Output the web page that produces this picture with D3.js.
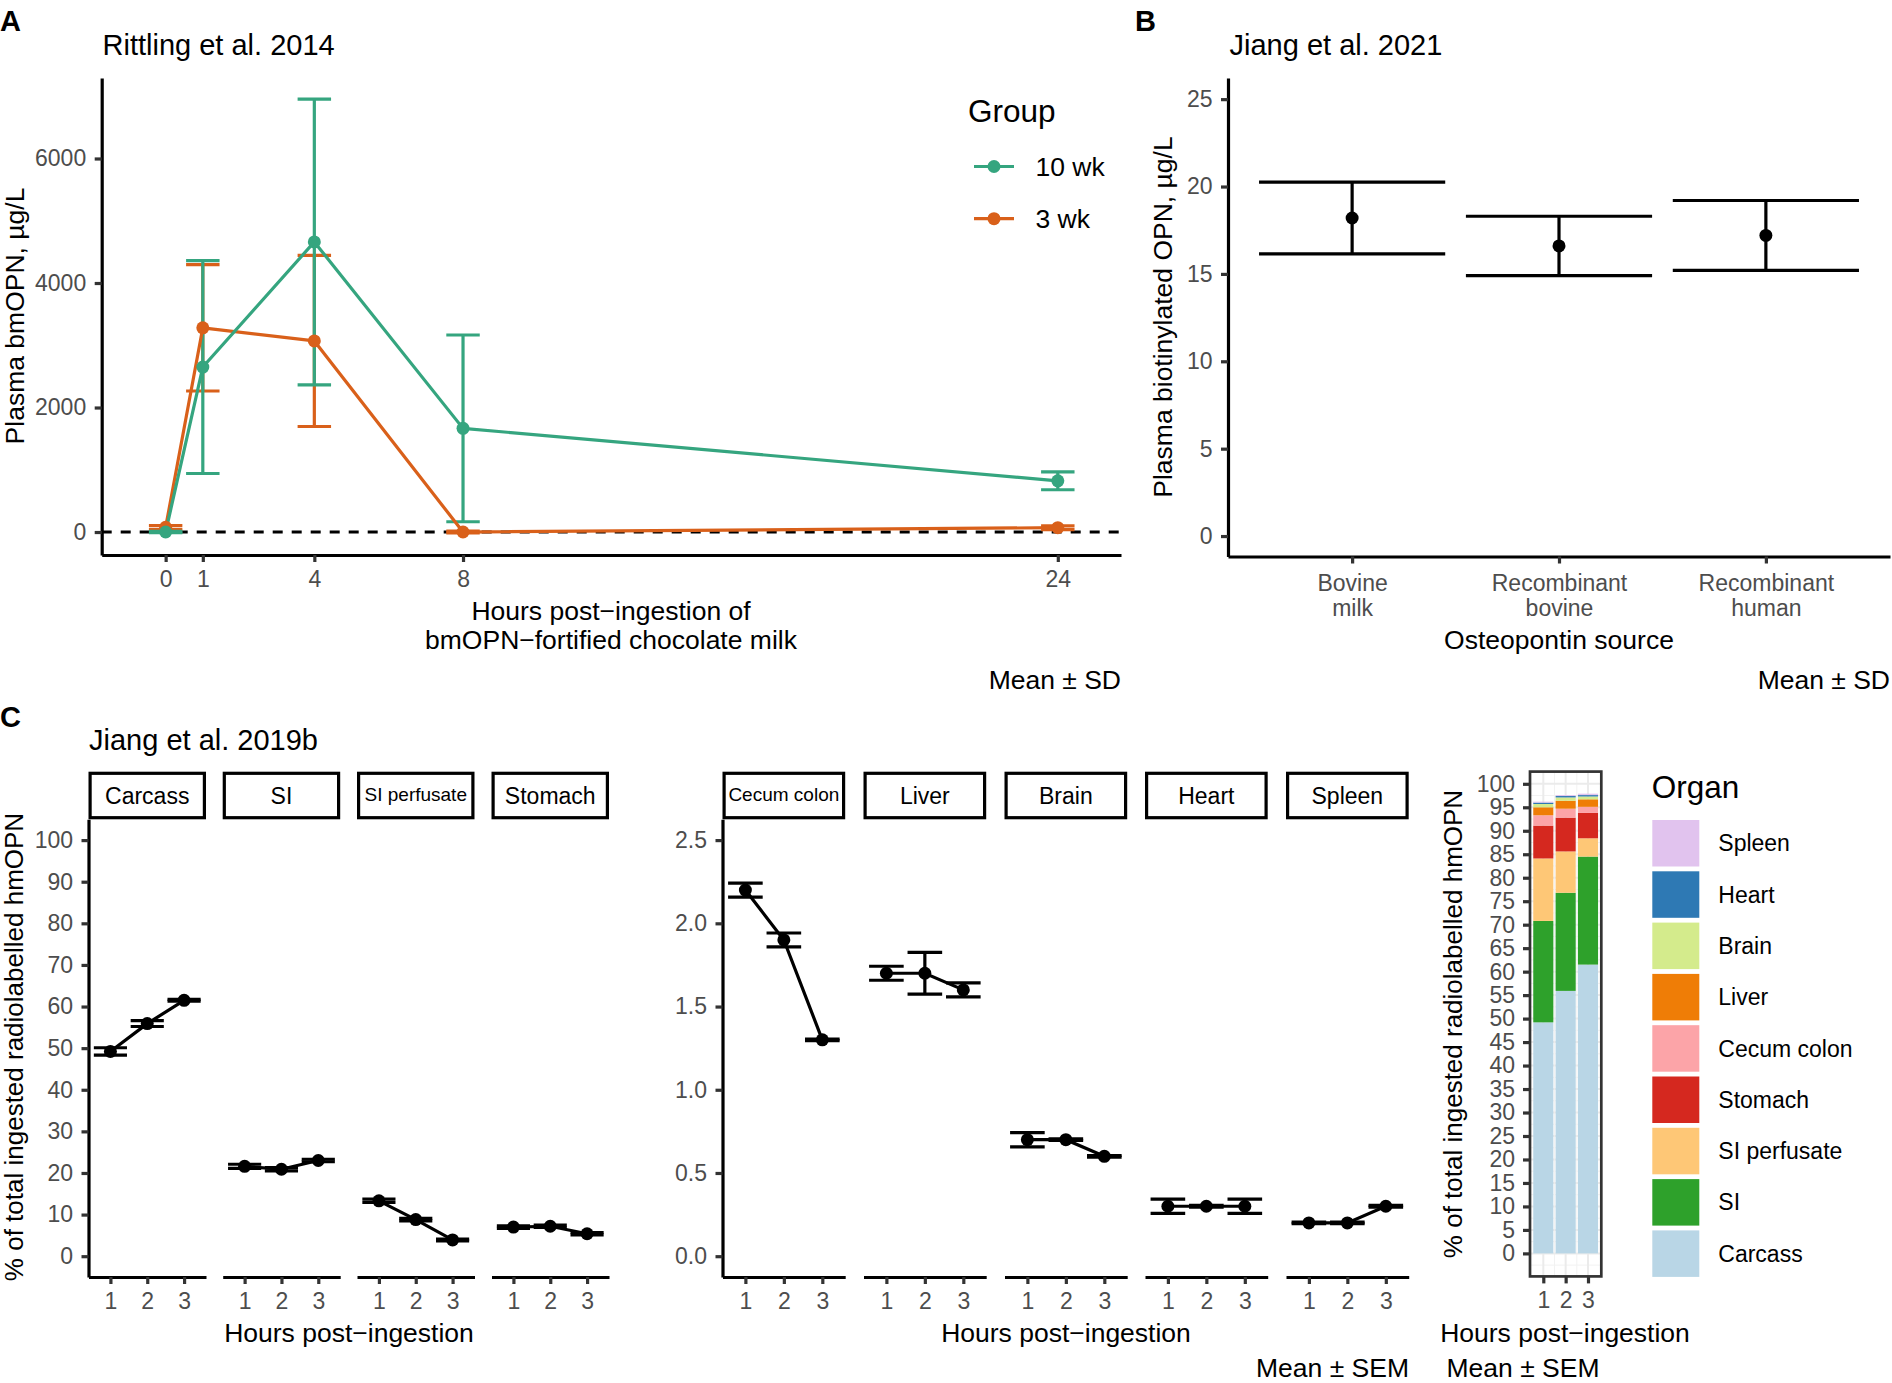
<!DOCTYPE html>
<html><head><meta charset="utf-8">
<script src="https://cdn.jsdelivr.net/npm/d3@7"></script>
<style>
body{margin:0;background:#fff}
svg{display:block}
text{font-family:"Liberation Sans",Arial,Helvetica,sans-serif}
</style>
</head><body>
<svg id="c" width="1892" height="1383"></svg>
<script>
// ================= DATA =================
// Panel A (Rittling et al. 2014)
const hoursA = [0, 1, 4, 8, 24];
const groupNames = ["10 wk", "3 wk"];
const mean10wk = [0, 2650, 4660, 1665, 822];
const sd10wk = [12, 1710, 2295, 1500, 143];
const mean3wk = [75, 3280, 3070, 0, 70];
const sd3wk = [30, 1015, 1375, 15, 30];
const yTicksA = [0, 2000, 4000, 6000];
const xTicksA = [0, 1, 4, 8, 24];

// Panel B (Jiang et al. 2021)
const sourcesB = ["Bovine milk", "Recombinant bovine", "Recombinant human"];
const sourceLinesB = [["Bovine", "milk"], ["Recombinant", "bovine"], ["Recombinant", "human"]];
const meanB = [18.2, 16.6, 17.2];
const sdB = [2.05, 1.7, 2.0];
const yTicksB = [0, 5, 10, 15, 20, 25];

// Panel C (Jiang et al. 2019b)
const hoursC = [1, 2, 3];
const organsHigh = ["Carcass", "SI", "SI perfusate", "Stomach"];
const organsLow = ["Cecum colon", "Liver", "Brain", "Heart", "Spleen"];
const meanCarcass = [49.2, 55.9, 61.5];
const semCarcass = [0.9, 0.7, 0.2];
const meanSI = [21.6, 20.9, 23.0];
const semSI = [0.5, 0.4, 0.3];
const meanSIperf = [13.3, 8.8, 3.9];
const semSIperf = [0.4, 0.3, 0.2];
const meanStomach = [7.0, 7.2, 5.4];
const semStomach = [0.3, 0.3, 0.3];
const meanCecum = [2.2, 1.9, 1.3];
const semCecum = [0.042, 0.042, 0.005];
const meanLiver = [1.7, 1.7, 1.6];
const semLiver = [0.042, 0.125, 0.042];
const meanBrain = [0.7, 0.7, 0.6];
const semBrain = [0.043, 0.005, 0.005];
const meanHeart = [0.3, 0.3, 0.3];
const semHeart = [0.043, 0.005, 0.043];
const meanSpleen = [0.2, 0.2, 0.3];
const semSpleen = [0.005, 0.005, 0.005];
const yTicksHigh = [0, 10, 20, 30, 40, 50, 60, 70, 80, 90, 100];
const yTicksLow = [0, 0.5, 1.0, 1.5, 2.0, 2.5];
const yTicksStack = [0, 5, 10, 15, 20, 25, 30, 35, 40, 45, 50, 55, 60, 65, 70, 75, 80, 85, 90, 95, 100];
const stackOrgans = ["Carcass", "SI", "SI perfusate", "Stomach", "Cecum colon", "Liver", "Brain", "Heart", "Spleen"];
const organColors = ["#b9d6e6", "#2ea12b", "#fec776", "#d5281f", "#fca4a8", "#ef7d06", "#d4eb8c", "#2e79b4", "#e1c3ee"];

const organData = {
  "Carcass": [meanCarcass, semCarcass],
  "SI": [meanSI, semSI],
  "SI perfusate": [meanSIperf, semSIperf],
  "Stomach": [meanStomach, semStomach],
  "Cecum colon": [meanCecum, semCecum],
  "Liver": [meanLiver, semLiver],
  "Brain": [meanBrain, semBrain],
  "Heart": [meanHeart, semHeart],
  "Spleen": [meanSpleen, semSpleen]
};

// ================= HELPERS =================
const svg = d3.select("#c");
const TICK_GREY = "#4d4d4d";
const LW = 3.2;
function T(sel, x, y, s, o = {}) {
  const t = sel.append("text").attr("x", x).attr("y", y).text(s)
    .attr("font-size", o.size || 23).attr("fill", o.fill || "#000")
    .attr("text-anchor", o.anchor || "start")
    .attr("font-weight", o.weight || "normal");
  if (o.rot) t.attr("transform", `rotate(-90 ${x} ${y})`);
  return t;
}
function styleAxis(g, opts = {}) {
  g.attr("font-family", null).attr("font-size", null);
  g.select(".domain").attr("stroke", "#000").attr("stroke-width", LW).attr("stroke-linecap", "butt");
  g.selectAll(".tick line").attr("stroke", "#333").attr("stroke-width", LW);
  g.selectAll(".tick text").attr("font-size", opts.size || 23).attr("fill", TICK_GREY)
    .style("font-family", '"Liberation Sans",Arial,sans-serif');
  if (opts.noDomain) g.select(".domain").remove();
}
function errorbars(g, x, y, xs, means, errs, half, color) {
  xs.forEach((xv, i) => {
    const lo = y(means[i] - errs[i]), hi = y(means[i] + errs[i]);
    const cx = x(xv);
    g.append("line").attr("x1", cx).attr("x2", cx).attr("y1", lo).attr("y2", hi)
      .attr("stroke", color).attr("stroke-width", LW);
    [lo, hi].forEach(yy => g.append("line")
      .attr("x1", x(xv - half)).attr("x2", x(xv + half)).attr("y1", yy).attr("y2", yy)
      .attr("stroke", color).attr("stroke-width", LW));
  });
}

// ================= PANEL A =================
{
  const g = svg.append("g");
  T(g, 0, 31, "A", {size: 29, weight: "bold"});
  T(g, 102.5, 55, "Rittling et al. 2014", {size: 29});
  const xA = d3.scaleLinear().domain([-1.72, 25.7]).range([101.7, 1121]);
  const yA = d3.scaleLinear().domain([-369, 7293]).range([555, 78]);

  g.append("line").attr("x1", xA.range()[0]).attr("x2", xA.range()[1])
    .attr("y1", yA(0)).attr("y2", yA(0))
    .attr("stroke", "#000").attr("stroke-width", 3).attr("stroke-dasharray", "10,9");

  const series = [
    {name: "3 wk", mean: mean3wk, sd: sd3wk, color: "#d9601a"},
    {name: "10 wk", mean: mean10wk, sd: sd10wk, color: "#35a57f"}
  ];
  const half = 0.45;
  series.forEach(s => errorbars(g, xA, yA, hoursA, s.mean, s.sd, half, s.color));
  const line = d3.line().x((d, i) => xA(hoursA[i])).y(d => yA(d));
  series.forEach(s => g.append("path").attr("d", line(s.mean)).attr("fill", "none")
    .attr("stroke", s.color).attr("stroke-width", LW).attr("stroke-linejoin", "round"));
  series.forEach(s => s.mean.forEach((m, i) => g.append("circle")
    .attr("cx", xA(hoursA[i])).attr("cy", yA(m)).attr("r", 6.5).attr("fill", s.color)));

  const ax = g.append("g").attr("transform", `translate(101.7,0)`)
    .call(d3.axisLeft(yA).tickValues(yTicksA).tickSize(7).tickSizeOuter(0).tickPadding(8.5).tickFormat(d3.format("d")));
  styleAxis(ax);
  const bx = g.append("g").attr("transform", `translate(0,555)`)
    .call(d3.axisBottom(xA).tickValues(xTicksA).tickSize(7).tickSizeOuter(0).tickPadding(9).tickFormat(d3.format("d")));
  styleAxis(bx);

  T(g, 23.5, 316, "Plasma bmOPN, µg/L", {size: 26.5, anchor: "middle", rot: true});
  T(g, 611, 620, "Hours post\u2212ingestion of", {size: 26.5, anchor: "middle"});
  T(g, 611, 648.5, "bmOPN\u2212fortified chocolate milk", {size: 26.5, anchor: "middle"});
  T(g, 1121, 689, "Mean ± SD", {size: 26.5, anchor: "end"});

  // legend
  T(g, 968, 122, "Group", {size: 31.5});
  const legendSeries = [series[1], series[0]];
  const legY = [166.5, 218.7];
  legendSeries.forEach((s, i) => {
    g.append("line").attr("x1", 974).attr("x2", 1014).attr("y1", legY[i]).attr("y2", legY[i])
      .attr("stroke", s.color).attr("stroke-width", LW);
    g.append("circle").attr("cx", 994).attr("cy", legY[i]).attr("r", 6.5).attr("fill", s.color);
    T(g, 1035.5, legY[i] + 9.5, s.name, {size: 26.5});
  });
}

// ================= PANEL B =================
{
  const g = svg.append("g");
  T(g, 1135, 31, "B", {size: 29, weight: "bold"});
  T(g, 1229.5, 55, "Jiang et al. 2021", {size: 29});
  const xB = d3.scalePoint().domain(sourcesB).range([1228, 1890]).padding(0.6);
  const yB = d3.scaleLinear().domain([-1.17, 26.21]).range([556.5, 78]);
  const step = xB.step();
  sourcesB.forEach((s, i) => {
    const cx = xB(s);
    const lo = yB(meanB[i] - sdB[i]), hi = yB(meanB[i] + sdB[i]);
    g.append("line").attr("x1", cx).attr("x2", cx).attr("y1", lo).attr("y2", hi)
      .attr("stroke", "#000").attr("stroke-width", LW);
    [lo, hi].forEach(yy => g.append("line").attr("x1", cx - 0.45 * step).attr("x2", cx + 0.45 * step)
      .attr("y1", yy).attr("y2", yy).attr("stroke", "#000").attr("stroke-width", LW));
    g.append("circle").attr("cx", cx).attr("cy", yB(meanB[i])).attr("r", 6.5).attr("fill", "#000");
  });
  const ax = g.append("g").attr("transform", `translate(1228,0)`)
    .call(d3.axisLeft(yB).tickValues(yTicksB).tickSize(7).tickSizeOuter(0).tickPadding(8.5));
  styleAxis(ax);
  const bx = g.append("g").attr("transform", `translate(0,556.5)`)
    .call(d3.axisBottom(xB).tickSize(7).tickSizeOuter(0).tickPadding(9));
  styleAxis(bx);
  bx.selectAll(".tick text").each(function(d) {
    const t = d3.select(this);
    const lines = sourceLinesB[sourcesB.indexOf(d)];
    t.text(null).attr("y", null).attr("dy", null);
    lines.forEach((l, k) => t.append("tspan").attr("x", 0).attr("y", 34.5 + k * 24.5).text(l));
  });
  T(g, 1172, 317, "Plasma biotinylated OPN, µg/L", {size: 26.5, anchor: "middle", rot: true});
  T(g, 1559, 648.5, "Osteopontin source", {size: 26.5, anchor: "middle"});
  T(g, 1890, 689, "Mean ± SD", {size: 26.5, anchor: "end"});
}

// ================= PANEL C =================
{
  const g = svg.append("g");
  T(g, 0, 727, "C", {size: 29, weight: "bold"});
  T(g, 89, 749.5, "Jiang et al. 2019b", {size: 29});

  const top = 819.3, bottom = 1277;
  const yHigh = d3.scaleLinear().domain([-5, 105]).range([bottom, top]);
  const yLow = d3.scaleLinear().domain([-0.125, 2.625]).range([bottom, top]);
  const groups = [
    {organs: organsHigh, lefts: [88.5, 222.7, 357, 491.5], w: 117.5, y: yHigh, ticks: yTicksHigh,
     fmt: d3.format("d")},
    {organs: organsLow, lefts: [722.5, 863.5, 1004.5, 1145, 1286], w: 122.7, y: yLow, ticks: yTicksLow,
     fmt: d3.format(".1f")}
  ];
  const smallStrip = ["SI perfusate", "Cecum colon"];
  groups.forEach(grp => {
    grp.organs.forEach((org, k) => {
      const left = grp.lefts[k];
      const x = d3.scaleLinear().domain([0.405, 3.595]).range([left, left + grp.w]);
      // strip
      g.append("rect").attr("x", left + 1.6).attr("y", 771.7 + 1.6)
        .attr("width", grp.w - 3.2).attr("height", top - 771.7 - 3.2)
        .attr("fill", "#fff").attr("stroke", "#000").attr("stroke-width", LW);
      const small = smallStrip.includes(org);
      T(g, left + grp.w / 2, small ? 800.5 : 804, org, {size: small ? 19 : 23, anchor: "middle"});
      // data
      const [m, s] = organData[org];
      errorbars(g, x, grp.y, hoursC, m, s, 0.45, "#000");
      const line = d3.line().x((d, i) => x(hoursC[i])).y(d => grp.y(d));
      g.append("path").attr("d", line(m)).attr("fill", "none").attr("stroke", "#000").attr("stroke-width", LW);
      m.forEach((v, i) => g.append("circle").attr("cx", x(hoursC[i])).attr("cy", grp.y(v)).attr("r", 6.5).attr("fill", "#000"));
      // x axis
      const bx = g.append("g").attr("transform", `translate(0,${bottom})`)
        .call(d3.axisBottom(x).tickValues(hoursC).tickSize(7).tickSizeOuter(0).tickPadding(9).tickFormat(d3.format("d")));
      styleAxis(bx);
      if (k === 0) {
        const ax = g.append("g").attr("transform", `translate(${left},0)`)
          .call(d3.axisLeft(grp.y).tickValues(grp.ticks).tickSize(7).tickSizeOuter(0).tickPadding(8.5).tickFormat(grp.fmt));
        styleAxis(ax);
      }
    });
  });
  T(g, 23, 1047, "% of total ingested radiolabelled hmOPN", {size: 26, anchor: "middle", rot: true});
  T(g, 349, 1342, "Hours post\u2212ingestion", {size: 26.5, anchor: "middle"});
  T(g, 1066, 1342, "Hours post\u2212ingestion", {size: 26.5, anchor: "middle"});
  T(g, 1409, 1377, "Mean ± SEM", {size: 26.5, anchor: "end"});

  // ---------- stacked bar panel ----------
  const sx = d3.scaleLinear().domain([0.405, 3.595]).range([1530, 1601.3]);
  const sy = d3.scaleLinear().domain([-4.9, 102.6]).range([1276.4, 771.6]);
  const grid = g.append("g");
  [1.5, 2.5].forEach(v => grid.append("line").attr("x1", sx(v)).attr("x2", sx(v)).attr("y1", 771.6).attr("y2", 1276.4)
    .attr("stroke", "#f2f2f2").attr("stroke-width", 1));
  d3.range(-2.5, 102.6, 5).forEach(v => grid.append("line").attr("x1", 1530).attr("x2", 1601.3).attr("y1", sy(v)).attr("y2", sy(v))
    .attr("stroke", "#f2f2f2").attr("stroke-width", 1));
  hoursC.forEach(v => grid.append("line").attr("x1", sx(v)).attr("x2", sx(v)).attr("y1", 771.6).attr("y2", 1276.4)
    .attr("stroke", "#ebebeb").attr("stroke-width", 2));
  yTicksStack.forEach(v => grid.append("line").attr("x1", 1530).attr("x2", 1601.3).attr("y1", sy(v)).attr("y2", sy(v))
    .attr("stroke", "#ebebeb").attr("stroke-width", 2));

  const rows = hoursC.map((h, i) => {
    const r = {hour: h};
    stackOrgans.forEach(o => r[o] = organData[o][0][i]);
    return r;
  });
  const stacked = d3.stack().keys(stackOrgans)(rows);
  stacked.forEach((layer, li) => {
    layer.forEach(seg => {
      g.append("rect").attr("x", sx(seg.data.hour - 0.45)).attr("width", sx(seg.data.hour + 0.45) - sx(seg.data.hour - 0.45))
        .attr("y", sy(seg[1])).attr("height", sy(seg[0]) - sy(seg[1])).attr("fill", organColors[li]);
    });
  });
  g.append("rect").attr("x", 1530).attr("y", 771.6).attr("width", 71.3).attr("height", 504.8)
    .attr("fill", "none").attr("stroke", "#333").attr("stroke-width", 2.7);
  const sax = g.append("g").attr("transform", `translate(1530,0)`)
    .call(d3.axisLeft(sy).tickValues(yTicksStack).tickSize(7).tickSizeOuter(0).tickPadding(8));
  styleAxis(sax, {noDomain: true});
  const sbx = g.append("g").attr("transform", `translate(0,1276.4)`)
    .call(d3.axisBottom(sx).tickValues(hoursC).tickSize(7).tickSizeOuter(0).tickPadding(8.5).tickFormat(d3.format("d")));
  styleAxis(sbx, {noDomain: true});
  T(g, 1462, 1024, "% of total ingested radiolabelled hmOPN", {size: 26, anchor: "middle", rot: true});
  T(g, 1565, 1342, "Hours post\u2212ingestion", {size: 26.5, anchor: "middle"});
  T(g, 1523, 1377, "Mean ± SEM", {size: 26.5, anchor: "middle"});

  // legend
  T(g, 1651.7, 797.5, "Organ", {size: 31.5});
  const legendOrgans = stackOrgans.slice().reverse();
  legendOrgans.forEach((o, i) => {
    const y0 = 820 + i * 51.3;
    g.append("rect").attr("x", 1652.3).attr("y", y0).attr("width", 47).attr("height", 46.5)
      .attr("fill", organColors[stackOrgans.indexOf(o)]);
    T(g, 1718.3, y0 + 23 + 8.3, o, {size: 23});
  });
}
</script>
</body></html>
